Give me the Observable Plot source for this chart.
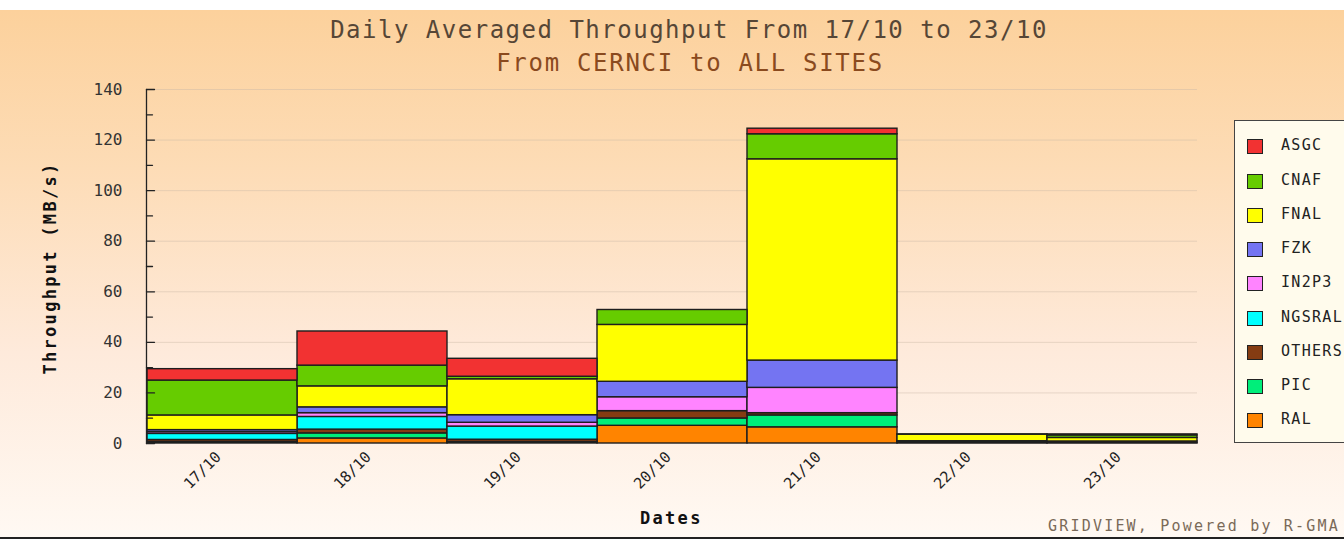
<!DOCTYPE html>
<html>
<head>
<meta charset="utf-8">
<script src="https://cdn.jsdelivr.net/npm/d3@7"></script>
<script src="https://cdn.jsdelivr.net/npm/@observablehq/plot@0.6"></script>
<style>
  html, body { margin: 0; padding: 0; width: 1344px; height: 542px; overflow: hidden; background: #fff; }
  body { position: relative; font-family: "DejaVu Sans Mono", monospace; }
  #bg { position: absolute; left: 0; top: 10px; width: 1344px; height: 527px;
        background: linear-gradient(to bottom, #fcd19c 0%, #fddcb6 30%, #feeadb 65%, #fff9f3 100%);
        border-bottom: 2px solid #222; }
  .abs { position: absolute; white-space: nowrap; }
  #title { left: 0; width: 1378px; text-align: center; top: 16px; font-size: 24px; letter-spacing: 1.5px; color: #564636; }
  #subtitle { left: 0; width: 1380px; text-align: center; top: 49px; font-size: 24px; letter-spacing: 1.7px; color: #8a4a1e; }
  #ylabel { left: 50px; top: 268px; font-size: 17px; font-weight: bold; letter-spacing: 2.3px; color: #111;
            transform: translate(-50%, -50%) rotate(-90deg); }
  #xlabel { left: 640px; top: 508px; font-size: 17px; font-weight: bold; letter-spacing: 2.3px; color: #111; }
  #credit { left: 1048px; top: 517px; font-size: 15px; letter-spacing: 2.2px; color: #7a6a58; }
  #chart { position: absolute; left: 0; top: 80px; }
  #legend { left: 1234px; top: 120px; width: 130px; height: 321px; border: 1px solid #444; background: #fffbec; }
  .item { position: absolute; left: 12px; height: 16px; }
  .sw { position: absolute; left: 0; top: 0; width: 14px; height: 13px; border: 1px solid #222; }
  .lab { position: absolute; left: 34px; top: -3px; font-size: 15px; letter-spacing: 1.3px; color: #222; }
</style>
</head>
<body>
<div id="bg"></div>
<div id="title" class="abs">Daily Averaged Throughput From 17/10 to 23/10</div>
<div id="subtitle" class="abs">From CERNCI to ALL SITES</div>
<div id="ylabel" class="abs">Throughput (MB/s)</div>
<div id="xlabel" class="abs">Dates</div>
<div id="credit" class="abs">GRIDVIEW, Powered by R-GMA</div>
<div id="chart"></div>
<div id="legend" class="abs"></div>
<script>
const dates = ["17/10", "18/10", "19/10", "20/10", "21/10", "22/10", "23/10"];
const sites = ["ASGC", "CNAF", "FNAL", "FZK", "IN2P3", "NGSRAL", "OTHERS", "PIC", "RAL"];
const colors = ["#f23232", "#66cc00", "#ffff00", "#7474f2", "#ff84ff", "#00ffff", "#853c12", "#00ee7a", "#ff8400"];

// values per site, one per date
const RAL    = [0.3, 2.0, 0.3, 7.0, 6.4, 0.2, 0.2];
const PIC    = [0.3, 2.0, 0.3, 2.9, 4.7, 0.0, 0.0];
const OTHERS = [0.8, 1.5, 0.9, 2.9, 0.9, 0.5, 0.6];
const NGSRAL = [2.4, 5.0, 5.2, 0.0, 0.0, 0.2, 0.0];
const IN2P3  = [0.7, 1.5, 1.5, 5.5, 10.0, 0.0, 0.0];
const FZK    = [0.8, 2.3, 3.0, 6.1, 10.8, 0.0, 0.0];
const FNAL   = [5.8, 8.3, 14.2, 22.5, 79.6, 2.6, 1.4];
const CNAF   = [13.8, 8.2, 1.0, 5.9, 9.9, 0.1, 1.0];
const ASGC   = [4.5, 13.5, 7.1, 0.0, 2.2, 0.0, 0.4];

const yTicks = [0, 20, 40, 60, 80, 100, 120, 140];
const yMinor = [10, 30, 50, 70, 90, 110, 130];

// stacking order bottom -> top
const stackOrder = [["RAL", RAL], ["PIC", PIC], ["OTHERS", OTHERS], ["NGSRAL", NGSRAL],
  ["IN2P3", IN2P3], ["FZK", FZK], ["FNAL", FNAL], ["CNAF", CNAF], ["ASGC", ASGC]];

const data = [];
for (const [site, vals] of stackOrder) {
  vals.forEach((v, i) => { if (v > 0) data.push({date: dates[i], site, value: v}); });
}

// plain line shape for vectors (no arrowhead)
const lineShape = {draw(context, l) { context.moveTo(0, 0); context.lineTo(0, -l); }};

const plotH = 450, mTop = 9, mBottom = 87;
const chart = Plot.plot({
  width: 1344,
  height: plotH,
  marginTop: mTop,
  marginBottom: mBottom,
  marginLeft: 146,
  marginRight: 147,
  style: {background: "transparent", fontFamily: "DejaVu Sans Mono, monospace"},
  x: {type: "band", domain: dates, padding: 0, label: null},
  y: {domain: [0, 140], label: null},
  color: {domain: sites, range: colors},
  marks: [
    Plot.gridY(yTicks.slice(1), {stroke: "#c9b8a6", strokeOpacity: 0.45}),
    Plot.barY(data, {x: "date", y: "value", fill: "site", stroke: "#1e1e1e", strokeWidth: 1.4, order: null}),
    Plot.vector([0], {y: 0, frameAnchor: "left", length: plotH - mTop - mBottom, rotate: 0, anchor: "start", shape: lineShape, stroke: "#222", strokeWidth: 1.3}),
    Plot.vector(yTicks, {y: d => d, frameAnchor: "left", length: 8, rotate: 90, anchor: "start", shape: lineShape, stroke: "#222", strokeWidth: 1.3}),
    Plot.vector(yMinor, {y: d => d, frameAnchor: "left", length: 6, rotate: 90, anchor: "start", shape: lineShape, stroke: "#222", strokeWidth: 1.3}),
    Plot.axisY({ticks: yTicks, tickSize: 0, tickPadding: 24, fontSize: 16, fill: "#333", label: null}),
    Plot.axisX({tickSize: 0, tickPadding: 11, dx: -4, tickRotate: -45, textAnchor: "end", fontSize: 15, fill: "#222", label: null})
  ]
});
document.getElementById("chart").appendChild(chart);

// legend
const leg = document.getElementById("legend");
const legY = [146, 181, 215, 249, 283, 318, 352, 386, 420];
sites.forEach((s, i) => {
  const it = document.createElement("div");
  it.className = "item";
  it.style.top = (legY[i] - 120 - 8) + "px";
  it.innerHTML = `<div class="sw" style="background:${colors[i]}"></div><div class="lab">${s}</div>`;
  leg.appendChild(it);
});
</script>
</body>
</html>
